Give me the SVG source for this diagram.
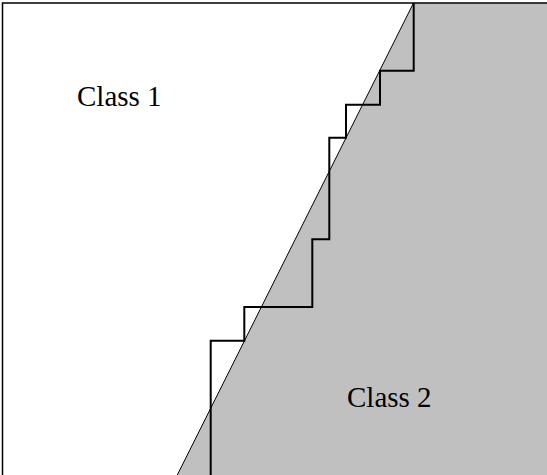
<svg xmlns="http://www.w3.org/2000/svg" width="547" height="475" viewBox="0 0 547 475">
  <style>
    .lbl { font-family: "Liberation Serif", "Times New Roman", serif; font-size: 29px; fill: #000; }
    .region { fill: #c0c0c0; stroke: none; }
    .boundary { fill: none; stroke: #000; stroke-width: 1; }
    .stair { fill: none; stroke: #000; stroke-width: 2; }
    .frame { fill: none; stroke: #000; stroke-width: 1.5; }
  </style>
  <rect x="0" y="0" width="547" height="475" fill="#fff"/>
  <g id="class2-region">
    <polygon class="region" points="413.5,3 547,3 547,475 177.3,475"/>
  </g>
  <g id="frame">
    <path class="frame" d="M2.5,475 V3 H547"/>
  </g>
  <g id="connectors">
    <line class="boundary" x1="413.5" y1="3" x2="177.3" y2="475"/>
    <polyline class="stair" points="413.7,3 413.7,70.7 380,70.7 380,104.7 346,104.7 346,137.7 329.3,137.7 329.3,239.3 312.3,239.3 312.3,307 244.3,307 244.3,340.7 210.7,340.7 210.7,475"/>
  </g>
  <g id="class1">
    <text class="lbl" x="77" y="106">Class 1</text>
  </g>
  <g id="class2">
    <text class="lbl" x="347" y="407">Class 2</text>
  </g>
</svg>
